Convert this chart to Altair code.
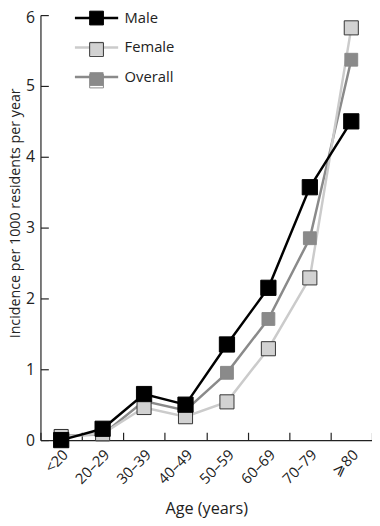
import altair as alt
import pandas as pd

categories = ["<20", "20–29", "30–39", "40–49", "50–59", "60–69", "70–79", "⩾80"]
series_names = ["Male", "Female", "Overall"]
male = [0.00, 0.16, 0.65, 0.50, 1.35, 2.15, 3.57, 4.50]
female = [0.05, 0.09, 0.46, 0.33, 0.54, 1.29, 2.29, 5.82]
overall = [0.06, 0.08, 0.55, 0.42, 0.95, 1.71, 2.85, 5.37]
y_ticks = [0, 1, 2, 3, 4, 5, 6]

line_colors = ["#000000", "#cbcbcb", "#8a8a8a"]
fill_colors = ["#000000", "#d2d2d2", "#8a8a8a"]
edge_colors = ["#000000", "#333333", "#8a8a8a"]
marker_sizes = [240, 170, 185]

rows = []
for name, vals in [("Overall", overall), ("Female", female), ("Male", male)]:
    for c, v in zip(categories, vals):
        rows.append({"age": c, "series": name, "group": name, "edge": name, "rate": v})
df = pd.DataFrame(rows)

FONT = "Open Sans"
INK = "#222222"

x_enc = alt.X(
    "age:N",
    sort=categories,
    scale=alt.Scale(type="band", domain=categories, paddingInner=0, paddingOuter=0),
    axis=alt.Axis(
        title="Age (years)",
        tickBand="extent",
        ticks=False,
        grid=True,
        gridDash=[0, 424, 8, 1000],
        gridColor=INK,
        gridWidth=1.2,
        domainColor=INK,
        domainWidth=1.2,
        labelAngle=315,
        labelAlign="right",
        labelBaseline="middle",
        labelPadding=12,
        labelOffset=4,
        labelOverlap=False,
        labelFont=FONT,
        labelFontSize=15,
        labelColor=INK,
        titleFont=FONT,
        titleFontSize=16.5,
        titleFontWeight="normal",
        titleColor=INK,
        titleY=75,
        titleBaseline="alphabetic",
    ),
)

y_enc = alt.Y(
    "rate:Q",
    scale=alt.Scale(domain=[0, 6], nice=False, zero=True),
    axis=alt.Axis(
        title="Incidence per 1000 residents per year",
        values=y_ticks,
        ticks=False,
        grid=True,
        gridDash=[8, 1000],
        gridColor=INK,
        gridWidth=1.2,
        domainColor=INK,
        domainWidth=1.2,
        labelPadding=6,
        labelOffset={"condition": {"test": "datum.value === 6", "value": 3}, "value": 0},
        labelFont=FONT,
        labelFontSize=16,
        labelColor=INK,
        titleFont=FONT,
        titleFontSize=14.5,
        titleFontWeight="normal",
        titleColor=INK,
        titleX=-32,
        titleY=201,
        titleAngle=270,
        titleAlign="center",
        titleBaseline="top",
    ),
)

base = alt.Chart(df).encode(x=x_enc, y=y_enc)

LEG_X = 48.5
LEG_Y = -5.5
ROW_PAD = 13

line_legend = alt.Legend(
    orient="none",
    legendX=LEG_X,
    legendY=LEG_Y,
    title=None,
    padding=0,
    symbolType="M-3.14,0H3.14",
    symbolSize=196,
    symbolStrokeWidth=2.5,
    symbolFillColor="transparent",
    labelOffset=20,
    rowPadding=ROW_PAD,
    labelFont=FONT,
    labelFontSize=15,
    labelColor=INK,
    labelLimit=0,
)

fill_legend = alt.Legend(
    orient="none",
    legendX=LEG_X,
    legendY=LEG_Y,
    title=None,
    padding=0,
    symbolType="square",
    symbolSize=196,
    symbolStrokeWidth=0,
    symbolStrokeColor="transparent",
    labelOpacity=0,
    rowPadding=ROW_PAD,
    labelFontSize=17,
)

edge_legend = alt.Legend(
    orient="none",
    legendX=LEG_X,
    legendY=LEG_Y,
    title=None,
    padding=0,
    symbolType="square",
    symbolSize=196,
    symbolStrokeWidth=1,
    symbolFillColor="transparent",
    labelOpacity=0,
    rowPadding=ROW_PAD,
    labelFontSize=17,
)

lines = base.mark_line(strokeWidth=2.5).encode(
    color=alt.Color(
        "series:N",
        sort=series_names,
        scale=alt.Scale(range=line_colors),
        legend=line_legend,
    )
)

points = base.mark_point(shape="square", filled=True, strokeWidth=1, opacity=1).encode(
    fill=alt.Fill(
        "group:N",
        sort=series_names,
        scale=alt.Scale(range=fill_colors),
        legend=fill_legend,
    ),
    stroke=alt.Stroke(
        "edge:N",
        sort=series_names,
        scale=alt.Scale(range=edge_colors),
        legend=edge_legend,
    ),
    size=alt.Size(
        "group:O",
        sort=series_names,
        scale=alt.Scale(range=marker_sizes),
        legend=None,
    ),
)

chart = (
    alt.layer(lines, points)
    .properties(
        width=337,
        height=432,
        autosize=alt.AutoSizeParams(type="none"),
        padding={"left": 33, "top": 3, "right": 0, "bottom": 77},
        background="white",
    )
    .configure_view(stroke=None)
)

chart.save("out.html", embed_options={"renderer": "svg", "actions": False})
